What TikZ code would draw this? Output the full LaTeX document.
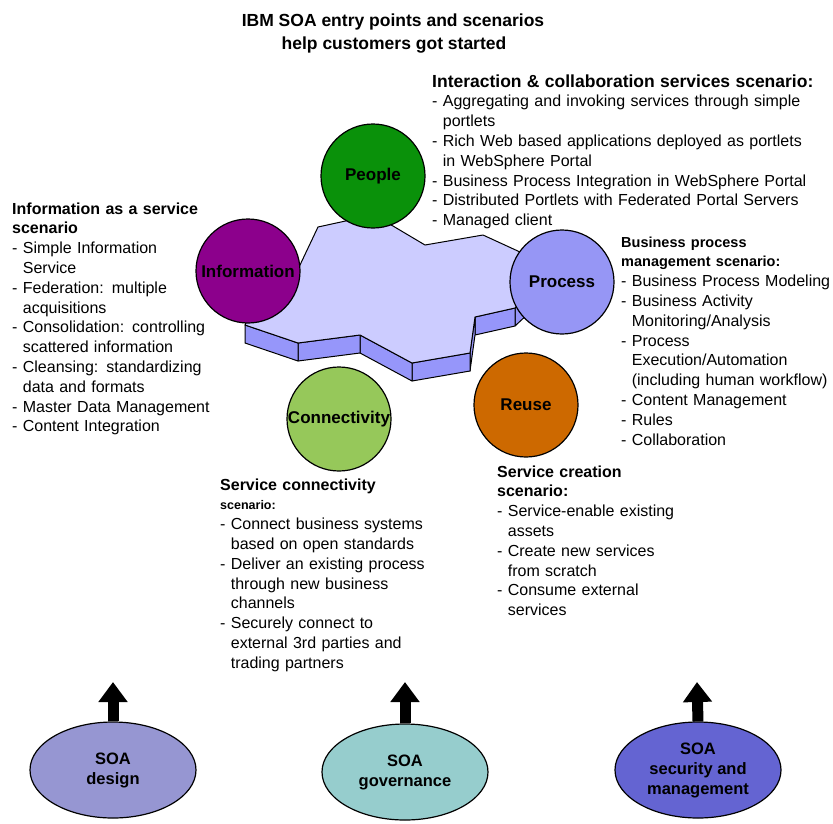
\documentclass[tikz,border=0pt]{standalone}
\usepackage{fontspec}
\setmainfont{Liberation Sans}
\usepackage{tikz}
\usetikzlibrary{calc}
\usetikzlibrary{arrows, arrows.meta, shapes.geometric}

\definecolor{peoplegreen}{RGB}{10,145,10}
\definecolor{infopurple}{RGB}{140,0,140}
\definecolor{processblue}{RGB}{150,150,245}
\definecolor{connectgreen}{RGB}{150,200,90}
\definecolor{reuseorange}{RGB}{205,105,0}
\definecolor{slabtop}{RGB}{204,204,255}
\definecolor{slabside}{RGB}{150,150,250}
\definecolor{designfill}{RGB}{150,150,210}
\definecolor{govfill}{RGB}{150,205,205}
\definecolor{secfill}{RGB}{100,100,210}

\newcommand{\ind}{\phantom{- }}
\newcommand{\sizedtxt}[2]{{\fontsize{#1}{19.8}\selectfont #2}}

\begin{document}
\begin{tikzpicture}[x=1pt, y=-1pt,
  hub/.style = {circle, draw, line width=1.2pt, minimum size=104pt, inner sep=0pt, font=\fontsize{17}{20}\selectfont\bfseries},
  pillar/.style = {ellipse, draw, line width=1.2pt, minimum width=166pt, minimum height=96pt, inner sep=0pt, align=center, font=\fontsize{16.5}{20}\selectfont\bfseries},
  notes/.style = {anchor=base west, inner sep=0pt, text width=#1, align=left, font=\fontsize{16}{19.8}\selectfont},
  uparrow/.style = {line width=11pt, -{Triangle[width=28pt, length=20pt]}},
  slab/.style = {draw, line width=1pt, line join=round, fill=slabside}]
  \useasboundingbox (0,0) rectangle (833,823);

  %title
  \node[anchor=base, font=\fontsize{17.5}{20}\selectfont\bfseries] (title) at (393,26) {IBM SOA entry points and scenarios};
  \node[anchor=base, font=\fontsize{17.5}{20}\selectfont\bfseries] (subtitle) at (394,49) {help customers got started};

  %slab corners
  \coordinate (s1) at (245,325);
  \coordinate (s2) at (298,343);
  \coordinate (s3) at (360,335);
  \coordinate (s4) at (412,363);
  \coordinate (s5) at (470,353);
  \coordinate (s6) at (475,317);
  \coordinate (s7) at (515,308);
  \coordinate (s8) at (545,280);
  \coordinate (s9) at (520,252);
  \coordinate (s10) at (483,235);
  \coordinate (s11) at (425,245);
  \coordinate (s12) at (393,226);
  \coordinate (s13) at (373,215);
  \coordinate (s14) at (318,227);
  \coordinate (s15) at (300,265);
  \coordinate (s16) at (260,290);
  %slab sides
  \draw[slab] (s7) -- (s8) -- ++(0,18) -- ($(s7)+(0,18)$) -- cycle;
  \draw[slab] (s6) -- (s7) -- ++(0,18) -- ($(s6)+(0,18)$) -- cycle;
  \draw[slab] (s5) -- (s6) -- ++(0,18) -- ($(s5)+(0,18)$) -- cycle;
  \draw[slab] (s4) -- (s5) -- ++(0,18) -- ($(s4)+(0,18)$) -- cycle;
  \draw[slab] (s3) -- (s4) -- ++(0,18) -- ($(s3)+(0,18)$) -- cycle;
  \draw[slab] (s2) -- (s3) -- ++(0,18) -- ($(s2)+(0,18)$) -- cycle;
  \draw[slab] (s1) -- (s2) -- ++(0,18) -- ($(s1)+(0,18)$) -- cycle;
  %slab top
  \draw[slab, fill=slabtop] (s1) -- (s2) -- (s3) -- (s4) -- (s5) -- (s6) -- (s7) -- (s8)
    -- (s9) -- (s10) -- (s11) -- (s12) -- (s13) -- (s14) -- (s15) -- (s16) -- cycle;

  %entry points
  \node[hub, fill=peoplegreen] (people) at (373,176) {People};
  \node[hub, fill=infopurple] (information) at (248,271) {Information};
  \node[hub, fill=processblue] (process) at (562,282) {Process};
  \node[hub, fill=connectgreen] (connectivity) at (339,419) {Connectivity};
  \node[hub, fill=reuseorange] (reuse) at (526,405) {Reuse};

  %scenarios
  \node[notes=220pt] (infonotes) at (12,214) {%
    \textbf{Information as a service}\\
    \textbf{scenario}\\
    - Simple Information\\
    \ind Service\\
    - Federation: multiple\\
    \ind acquisitions\\
    - Consolidation: controlling\\
    \ind scattered information\\
    - Cleansing: standardizing\\
    \ind data and formats\\
    - Master Data Management\\
    - Content Integration};
  \node[notes=400pt] (peoplenotes) at (432,87) {%
    \sizedtxt{17.5}{\textbf{Interaction \& collaboration services scenario:}}\\
    - Aggregating and invoking services through simple\\
    \ind portlets\\
    - Rich Web based applications deployed as portlets\\
    \ind in WebSphere Portal\\
    - Business Process Integration in WebSphere Portal\\
    - Distributed Portlets with Federated Portal Servers\\
    - Managed client};
  \node[notes=215pt] (processnotes) at (621,247) {%
    \sizedtxt{14.5}{\textbf{Business process}}\\
    \sizedtxt{14.5}{\textbf{management scenario:}}\\
    - Business Process Modeling\\
    - Business Activity\\
    \ind Monitoring/Analysis\\
    - Process\\
    \ind Execution/Automation\\
    \ind (including human workflow)\\
    - Content Management\\
    - Rules\\
    - Collaboration};
  \node[notes=240pt] (connectnotes) at (220,490) {%
    \textbf{Service connectivity}\\
    \sizedtxt{12.5}{\textbf{scenario:}}\\
    - Connect business systems\\
    \ind based on open standards\\
    - Deliver an existing process\\
    \ind through new business\\
    \ind channels\\
    - Securely connect to\\
    \ind external 3rd parties and\\
    \ind trading partners};
  \node[notes=220pt] (reusenotes) at (497,477) {%
    \textbf{Service creation}\\
    \textbf{scenario:}\\
    - Service-enable existing\\
    \ind assets\\
    - Create new services\\
    \ind from scratch\\
    - Consume external\\
    \ind services};

  %foundations
  \node[pillar, fill=designfill] (design) at (113,770) {SOA\\design};
  \node[pillar, fill=govfill] (governance) at (405,772) {SOA\\governance};
  \node[pillar, fill=secfill] (security) at (698,770) {SOA\\security and\\management};
  \coordinate (designtip) at (113,682);
  \coordinate (governancetip) at (405,682);
  \coordinate (securitytip) at (697,682);
  \draw[uparrow] (design.north) -- (designtip);
  \draw[uparrow] (governance.north) -- (governancetip);
  \draw[uparrow] (security.north) -- (securitytip);
\end{tikzpicture}
\end{document}
